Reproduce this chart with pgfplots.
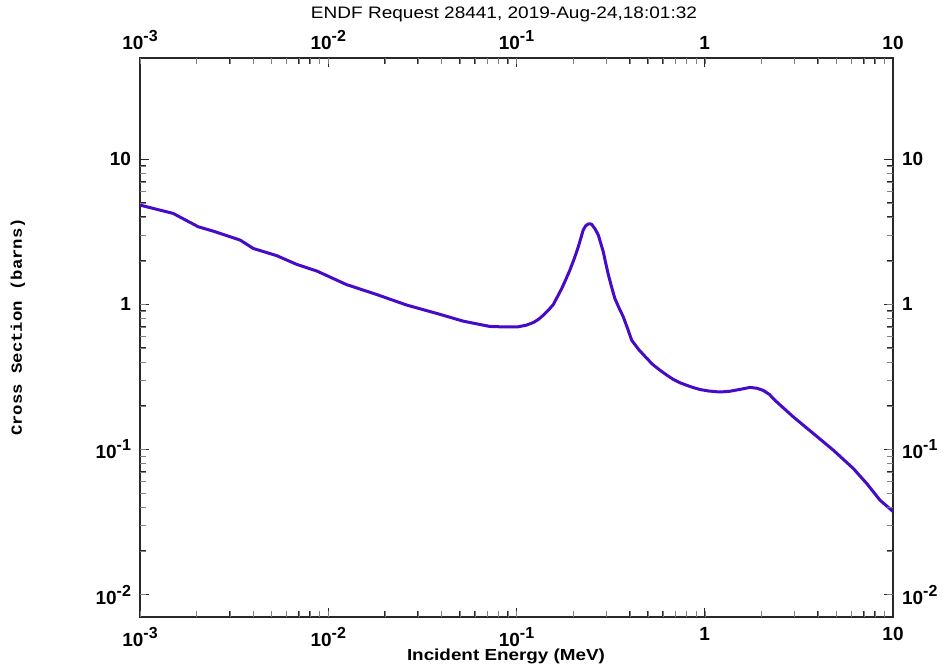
\documentclass[border=0pt]{standalone}
\usepackage{pgfplots}
\pgfplotsset{compat=1.18}
\usepackage{pgfplotstable}
\usepackage{graphicx}
\usepackage{fontspec}
\setmainfont{Liberation Sans}
\newfontfamily\monofont{Liberation Mono}

\definecolor{curve}{RGB}{70,10,200}
\definecolor{framecol}{RGB}{40,40,40}

% power-of-ten tick label with a large exponent
\newcommand\tenpow[1]{10\raisebox{0.42em}{\fontsize{8}{8}\selectfont\bfseries #1}}

\pgfplotstableread{
E        xs
1.00e-3  4.84
1.50e-3  4.24
2.04e-3  3.43
2.45e-3  3.20
3.40e-3  2.78
4.00e-3  2.43
5.32e-3  2.17
6.79e-3  1.89
8.69e-3  1.70
1.25e-2  1.37
1.81e-2  1.17
2.61e-2  0.99
3.77e-2  0.867
5.21e-2  0.767
7.22e-2  0.705
0.085    0.700
0.102    0.701
0.113    0.720
0.123    0.751
0.131    0.790
0.139    0.844
0.148    0.915
0.157    1.00
0.165    1.13
0.174    1.29
0.183    1.49
0.192    1.72
0.203    2.08
0.213    2.50
0.220    2.88
0.226    3.25
0.233    3.48
0.240    3.58
0.246    3.60
0.251    3.56
0.262    3.30
0.272    3.01
0.280    2.65
0.289    2.31
0.298    1.92
0.308    1.59
0.320    1.32
0.333    1.10
0.350    0.950
0.369    0.822
0.388    0.690
0.409    0.567
0.445    0.490
0.492    0.425
0.530    0.385
0.578    0.352
0.630    0.325
0.681    0.304
0.740    0.288
0.802    0.277
0.870    0.267
0.944    0.259
1.05     0.253
1.156    0.250
1.26     0.250
1.36     0.252
1.55     0.260
1.74     0.268
1.90     0.264
2.05     0.255
2.20     0.240
2.41     0.213
2.95     0.168
3.77     0.129
4.82     0.0989
6.15     0.0740
7.25     0.0583
8.53     0.0447
10.0     0.0374
}\xsdata

\begin{document}
\begin{tikzpicture}
\useasboundingbox (0pt,0pt) rectangle (473pt,334pt);

% main axis: curve, labels on bottom and left
\begin{axis}[
  at={(70pt,25.5pt)}, anchor=south west,
  scale only axis, width=376.5pt, height=279.5pt,
  xmode=log, ymode=log,
  xmin=1e-3, xmax=10, ymin=7e-3, ymax=50,
  xtick={1e-3,1e-2,1e-1,1,10},
  xticklabels={\tenpow{-3},\tenpow{-2},\tenpow{-1},1,10},
  ytick={1e-2,1e-1,1,10},
  yticklabels={\tenpow{-2},\tenpow{-1},1,10},
  tick label style={font=\fontsize{9.5}{10}\selectfont\bfseries, text=black},
  major tick length=4.5pt, minor tick length=3pt,
  tick align=inside,
  tick style={color=framecol, line width=0.6pt},
  axis line style={color=framecol, line width=1pt},
  tick pos=both,
  xticklabel pos=bottom, yticklabel pos=left,
  xticklabel style={yshift=-1.5pt},
  yticklabel style={xshift=-1pt},
]
\addplot[curve, line width=1.5pt, line join=round] table[x=E, y=xs] {\xsdata};
\end{axis}

% mirror labels on top and right
\begin{axis}[
  at={(70pt,25.5pt)}, anchor=south west,
  scale only axis, width=376.5pt, height=279.5pt,
  xmode=log, ymode=log,
  xmin=1e-3, xmax=10, ymin=7e-3, ymax=50,
  xtick={1e-3,1e-2,1e-1,1,10},
  xticklabels={\tenpow{-3},\tenpow{-2},\tenpow{-1},1,10},
  ytick={1e-2,1e-1,1,10},
  yticklabels={\tenpow{-2},\tenpow{-1},1,10},
  tick label style={font=\fontsize{9.5}{10}\selectfont\bfseries, text=black},
  minor tick num=0,
  major tick length=0pt,
  axis line style={draw=none},
  xticklabel pos=top, yticklabel pos=right,
  xticklabel style={yshift=0.5pt},
  yticklabel style={xshift=1pt},
]
\addplot[draw=none] coordinates {(1,1)};
\end{axis}

% title and axis labels
\node at (252pt,327pt) {\resizebox{193pt}{5.8pt}{ENDF Request 28441, 2019-Aug-24,18:01:32}};
\node at (253pt,6pt) {\resizebox{99pt}{5.8pt}{\bfseries Incident Energy (MeV)}};
\node[rotate=90] at (9pt,170.5pt) {\resizebox{109pt}{5.6pt}{\monofont\bfseries Cross Section (barns)}};
\end{tikzpicture}
\end{document}
